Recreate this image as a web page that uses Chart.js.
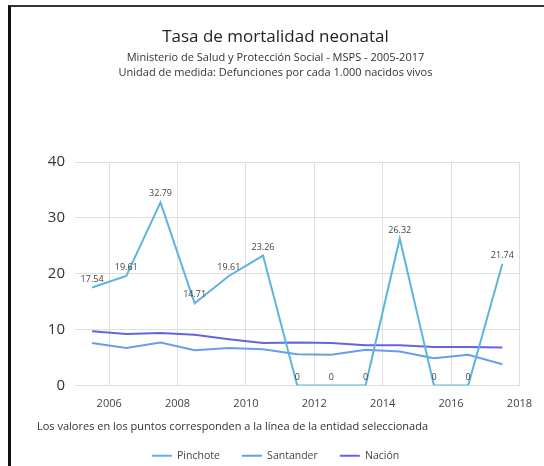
<!DOCTYPE html>
<html>
<head>
<meta charset="utf-8">
<script src="https://cdn.jsdelivr.net/npm/chart.js@4.4.1/dist/chart.umd.min.js"></script>
<style>
  html, body { margin: 0; padding: 0; background: #fff; }
  #wrap { position: relative; width: 544px; height: 466px; overflow: hidden; }
  #marco { position: absolute; left: 8px; top: 5px; right: -4px; bottom: -4px;
           border-top: 2px solid #333; border-left: 3px solid #111; }
  #grafico { position: absolute; left: 0; top: 0; }
</style>
</head>
<body>
<div id="wrap">
  <div id="marco"></div>
  <canvas id="grafico" width="544" height="466"></canvas>
</div>
<script>
// Datos (tasa por cada 1.000 nacidos vivos)
const anios = [2005.5, 2006.5, 2007.5, 2008.5, 2009.5, 2010.5, 2011.5, 2012.5, 2013.5, 2014.5, 2015.5, 2016.5, 2017.5];
const pinchote = [17.54, 19.61, 32.79, 14.71, 19.61, 23.26, 0, 0, 0, 26.32, 0, 0, 21.74];
const santander = [7.6, 6.7, 7.7, 6.3, 6.7, 6.5, 5.6, 5.5, 6.4, 6.1, 4.9, 5.5, 3.8];
const nacion = [9.7, 9.2, 9.4, 9.1, 8.3, 7.6, 7.7, 7.6, 7.2, 7.2, 6.9, 6.9, 6.8];
const ticksX = [2006, 2008, 2010, 2012, 2014, 2016, 2018];
const ticksY = [0, 10, 20, 30, 40];

const FUENTE = "'Open Sans', 'Noto Sans', sans-serif";
const NOTA = 'Los valores en los puntos corresponden a la línea de la entidad seleccionada';

const puntos = (ys) => anios.map((x, i) => ({ x: x, y: ys[i] }));

// etiquetas de valor sobre la línea de la entidad seleccionada
const etiquetasPlugin = {
    id: 'etiquetas',
    afterDatasetsDraw(chart) {
        const ctx = chart.ctx;
        const meta = chart.getDatasetMeta(0);
        ctx.save();
        ctx.font = '9px ' + FUENTE;
        ctx.fillStyle = '#444';
        ctx.textAlign = 'center';
        ctx.textBaseline = 'bottom';
        meta.data.forEach((p, i) => {
            ctx.fillText(String(pinchote[i]), p.x, p.y - 4);
        });
        ctx.restore();
    }
};

// nota bajo el eje x
const notaPlugin = {
    id: 'nota',
    afterDraw(chart) {
        const ctx = chart.ctx;
        ctx.save();
        ctx.font = '11px ' + FUENTE;
        ctx.fillStyle = '#333';
        ctx.textAlign = 'left';
        ctx.textBaseline = 'middle';
        ctx.fillText(NOTA, 37, 427);
        ctx.restore();
    }
};

const ctx = document.getElementById('grafico').getContext('2d');
new Chart(ctx, {
    type: 'line',
    data: {
        datasets: [
            { label: 'Pinchote', data: puntos(pinchote), borderColor: '#5bb5de', backgroundColor: '#5bb5de' },
            { label: 'Santander', data: puntos(santander), borderColor: '#6b9ceb', backgroundColor: '#6b9ceb' },
            { label: 'Nación', data: puntos(nacion), borderColor: '#6464e0', backgroundColor: '#6464e0' }
        ]
    },
    options: {
        responsive: false,
        animation: false,
        events: [],
        elements: {
            line: { borderWidth: 2, tension: 0 },
            point: { radius: 0 }
        },
        layout: { padding: { left: 24, right: 17, top: 0, bottom: -5 } },
        scales: {
            x: {
                type: 'linear',
                min: 2005,
                max: 2018,
                afterBuildTicks: (s) => { s.ticks = ticksX.map(v => ({ value: v })); },
                ticks: { callback: (v) => String(v), color: '#444', padding: 12, maxRotation: 0,
                         font: { family: FUENTE, size: 11 } },
                grid: { color: '#dedede', drawTicks: false },
                border: { display: false },
                title: { display: true, text: ' ', padding: { top: 0, bottom: 1 }, font: { size: 4 } }
            },
            y: {
                min: 0,
                max: 40,
                afterBuildTicks: (s) => { s.ticks = ticksY.map(v => ({ value: v })); },
                afterFit: (s) => { s.width = 51; },
                ticks: { color: '#333', padding: 10, font: { family: FUENTE, size: 15 } },
                grid: { color: '#dedede', drawTicks: false },
                border: { display: false }
            }
        },
        plugins: {
            title: {
                display: true,
                text: 'Tasa de mortalidad neonatal',
                color: '#222',
                font: { family: FUENTE, size: 17, weight: 'normal', lineHeight: 1.2 },
                padding: { top: 27, bottom: 3 }
            },
            subtitle: {
                display: true,
                text: ['Ministerio de Salud y Protección Social - MSPS - 2005-2017',
                       'Unidad de medida: Defunciones por cada 1.000 nacidos vivos'],
                color: '#333',
                font: { family: FUENTE, size: 11, lineHeight: 1.35 },
                padding: { top: 0, bottom: 82 }
            },
            legend: {
                display: true,
                position: 'bottom',
                labels: {
                    color: '#444',
                    font: { family: FUENTE, size: 10.5 },
                    boxWidth: 20,
                    boxHeight: 2,
                    padding: 22,
                    generateLabels: (chart) => Chart.defaults.plugins.legend.labels.generateLabels(chart)
                        .map(it => Object.assign(it, { lineWidth: 0 }))
                }
            },
            tooltip: { enabled: false }
        }
    },
    plugins: [etiquetasPlugin, notaPlugin]
});
</script>
</body>
</html>
